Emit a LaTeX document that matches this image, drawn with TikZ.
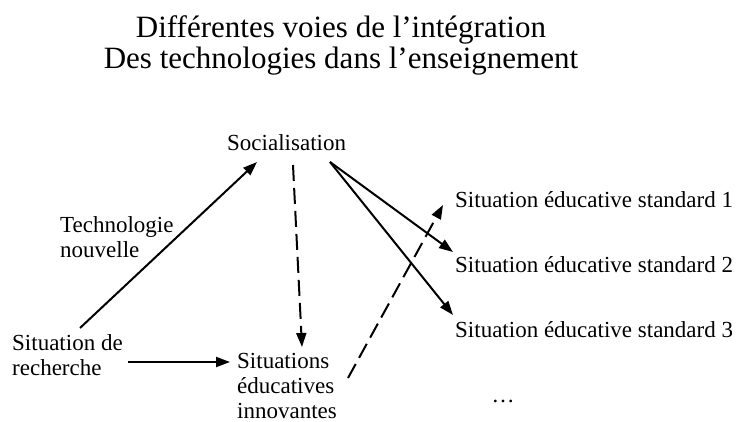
\documentclass[tikz,border=0pt]{standalone}
\usepackage{fontspec}
\setmainfont{Liberation Serif}
\usetikzlibrary{arrows.meta}

\begin{document}
\begin{tikzpicture}[x=1pt,y=-1pt,
  t/.style={inner sep=0pt,align=left,font=\fontsize{23}{25}\selectfont},
  ar/.style={-{Triangle[length=14pt,width=10pt]},line width=2pt},
  da/.style={ar,dash pattern=on 16pt off 7pt}]
\useasboundingbox (0,0) rectangle (740,421);
% multi-line nodes: base = baseline of the last line
\node[inner sep=0pt,align=center,anchor=base,font=\fontsize{31}{31}\selectfont] (title) at (341,68)
  {Différentes voies de l’intégration\\ Des technologies dans l’enseignement};
\node[t,anchor=base west] (soc) at (227,150) {Socialisation};
\node[t,anchor=base west] (tech) at (60,257) {Technologie\\ nouvelle};
\node[t,anchor=base west] (rech) at (12,375) {Situation de\\ recherche};
\node[t,anchor=base west] (innov) at (237,418) {Situations\\ éducatives\\ innovantes};
\node[t,anchor=base west] (std1) at (455,207) {Situation éducative standard 1};
\node[t,anchor=base west] (std2) at (455,272) {Situation éducative standard 2};
\node[t,anchor=base west] (std3) at (455,337) {Situation éducative standard 3};
\node[t,anchor=base] (dots) at (503,402) {…};
\draw[ar] ([xshift=68pt,yshift=47pt]rech.base west) -- ([xshift=30pt,yshift=-12pt]soc.base west);
\draw[ar] ([xshift=116pt,yshift=13pt]rech.base west) -- ([xshift=-7pt,yshift=56pt]innov.base west);
\draw[da] ([xshift=66pt,yshift=-15pt]soc.base west) -- ([xshift=65pt,yshift=71pt]innov.base west);
\draw[ar] ([xshift=103pt,yshift=-12pt]soc.base west) -- ([xshift=-2pt,yshift=20pt]std2.base west);
\draw[ar] ([xshift=103pt,yshift=-12pt]soc.base west) -- ([xshift=-2pt,yshift=22pt]std3.base west);
\draw[da] ([xshift=111pt,yshift=40pt]innov.base west) -- ([xshift=-12pt,yshift=2pt]std1.base west);
\end{tikzpicture}
\end{document}
